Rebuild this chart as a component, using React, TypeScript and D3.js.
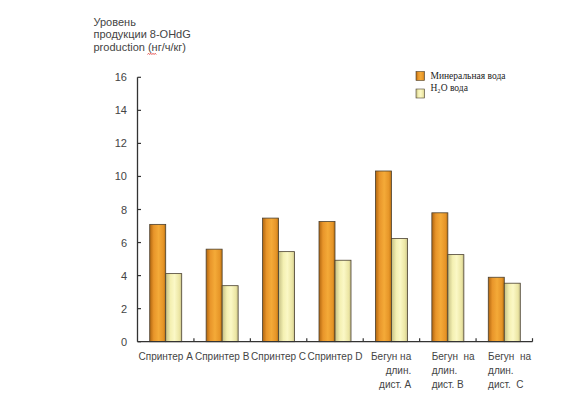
import React from "react";
import * as d3 from "d3";

const width = 581;
const height = 400;

const categories = ["A", "B", "C", "D", "E", "F", "G"];
const categoryLines = [
  ["Спринтер A"],
  ["Спринтер B"],
  ["Спринтер C"],
  ["Спринтер D"],
  ["Бегун на", "длин.", "дист. A"],
  ["Бегун  на", "длин.", "дист. B"],
  ["Бегун  на", "длин.", "дист.  C"],
];
const labelAlign = ["middle", "middle", "middle", "middle", "end", "start", "start"];
const mineralValues = [7.1, 5.6, 7.48, 7.27, 10.33, 7.8, 3.9];
const waterValues = [4.12, 3.39, 5.45, 4.93, 6.24, 5.27, 3.54];
const yTicks = [0, 2, 4, 6, 8, 10, 12, 14, 16];
const seriesNames = ["Минеральная вода", "H₂O вода"];
const titleLines = ["Уровень", "продукции 8-OHdG", "production (нг/ч/кг)"];

const x = d3.scaleBand<string>().domain(categories).range([137.5, 532.5]).padding(0);
const y = d3.scaleLinear().domain([0, 16]).range([341.7, 77.3]);
const barW = 16;
const inner = d3.scaleBand<number>().domain([0, 1]).range([0, barW * 2]);

const fills = ["url(#gOrange)", "url(#gYellow)"];

// little spell-check squiggle under "нг" in the title
const squiggle = d3.range(0, 9).map((i) => [147.5 + i * 1.1, i % 2 ? 53.2 : 54.6] as [number, number]);

const App: React.FC = () => {
  const axisColor = "#333";
  const textColor = "#444";
  const font = "Arial, 'Liberation Sans', sans-serif";
  return (
    <svg
      width={width}
      height={height}
      style={{ position: "absolute", left: 0, top: 0, background: "#fff" }}
    >
      <defs>
        <linearGradient id="gOrange" x1="0" x2="1" y1="0" y2="0">
          <stop offset="0%" stopColor="#b0650f" />
          <stop offset="25%" stopColor="#e8952a" />
          <stop offset="55%" stopColor="#f4aa38" />
          <stop offset="85%" stopColor="#e69528" />
          <stop offset="100%" stopColor="#b8700f" />
        </linearGradient>
        <linearGradient id="gYellow" x1="0" x2="1" y1="0" y2="0">
          <stop offset="0%" stopColor="#c4bf84" />
          <stop offset="30%" stopColor="#f4f0b2" />
          <stop offset="55%" stopColor="#fbf8c6" />
          <stop offset="85%" stopColor="#ece6a4" />
          <stop offset="100%" stopColor="#c8c28a" />
        </linearGradient>
      </defs>

      {titleLines.map((t, i) => (
        <text key={t} x={93.5} y={26 + i * 12.3} fontFamily={font} fontSize={11} fill={textColor}>
          {t}
        </text>
      ))}
      <path d={d3.line()(squiggle) ?? ""} fill="none" stroke="#e03030" strokeWidth={0.7} />

      {/* bars */}
      {categories.map((c, i) => {
        const x0 = (x(c) ?? 0) + (x.bandwidth() - barW * 2) / 2;
        return [mineralValues[i], waterValues[i]].map((v, s) => (
          <rect
            key={c + s}
            x={x0 + (inner(s) ?? 0)}
            y={y(v)}
            width={inner.bandwidth()}
            height={y(0) - y(v)}
            fill={fills[s]}
            stroke="#4a4030"
            strokeWidth={0.8}
          />
        ));
      })}

      {/* y axis */}
      <line x1={137.5} x2={137.5} y1={y(16)} y2={y(0)} stroke={axisColor} strokeWidth={1.3} />
      {yTicks.map((t) => (
        <g key={t}>
          <line x1={137.5} x2={141} y1={y(t)} y2={y(t)} stroke={axisColor} strokeWidth={1.2} />
          <text
            x={127}
            y={y(t) + 4}
            textAnchor="end"
            fontFamily={font}
            fontSize={11}
            fill={textColor}
          >
            {t}
          </text>
        </g>
      ))}

      {/* x axis */}
      <line x1={137.5} x2={x.range()[1]} y1={y(0)} y2={y(0)} stroke={axisColor} strokeWidth={1.3} />
      {categories.map((c) => (
        <line
          key={c}
          x1={(x(c) ?? 0) + x.bandwidth()}
          x2={(x(c) ?? 0) + x.bandwidth()}
          y1={y(0)}
          y2={y(0) - 3.5}
          stroke={axisColor}
          strokeWidth={1.2}
        />
      ))}
      {categories.map((c, i) => {
        const align = labelAlign[i];
        const left = x(c) ?? 0;
        const lx = align === "middle" ? left + x.bandwidth() / 2 : align === "end" ? left + 48 : left + 12;
        return categoryLines[i].map((line, j) => (
          <text
            key={c + j}
            x={lx}
            y={360 + j * 14}
            textAnchor={align}
            fontFamily={font}
            fontSize={10}
            fill={textColor}
            style={{ whiteSpace: "pre" }}
          >
            {line}
          </text>
        ));
      })}

      {/* legend */}
      {seriesNames.map((n, i) => (
        <g key={n}>
          <rect
            x={416}
            y={71.5 + i * 17.5}
            width={8.5}
            height={9}
            fill={fills[i]}
            stroke="#4a4030"
            strokeWidth={0.6}
          />
          <text
            x={430.5}
            y={78.5 + i * 12}
            fontFamily="'Liberation Serif', 'Times New Roman', serif"
            fontSize={9.5}
            fill="#222"
          >
            {n}
          </text>
        </g>
      ))}
    </svg>
  );
};

export default App;
